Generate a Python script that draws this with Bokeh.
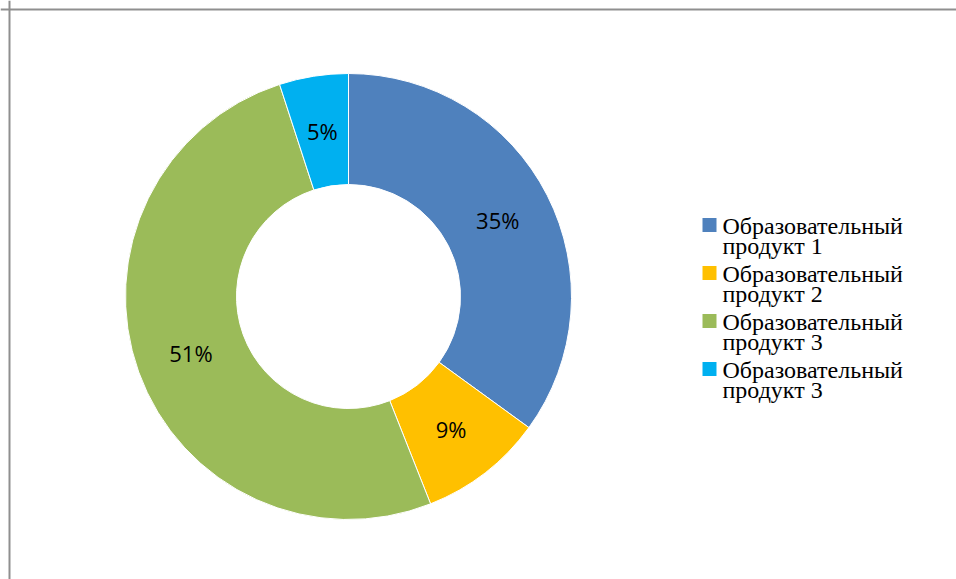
import numpy as np
from bokeh.plotting import figure
from bokeh.models import Range1d, Span, ColumnDataSource
from bokeh.core.properties import value
from bokeh.embed import file_html
from bokeh.resources import INLINE

# ---- data ----
categories = ["Образовательный продукт 1", "Образовательный продукт 2",
              "Образовательный продукт 3", "Образовательный продукт 3"]
shares = [35, 9, 51, 5]
colors = ["#4F81BD", "#FFC000", "#9BBB59", "#00B0F0"]

# ---- layout ----
W, H = 956, 579
OFF = 8
CX, CY = 348, H - 296
R_OUT, R_IN = 223, 112

p = figure(width=W, height=H, x_range=Range1d(0, W), y_range=Range1d(0, H),
           output_backend="svg", toolbar_location=None, min_border=0,
           x_axis_location=None, y_axis_location=None)
p.grid.visible = False
p.outline_line_color = None
p.background_fill_color = "white"
p.border_fill_color = "white"

sh = np.array(shares, dtype=float)
frac = sh / sh.sum()
cum = np.cumsum(frac)
starts = np.pi / 2 - 2 * np.pi * (cum - frac)
ends = np.pi / 2 - 2 * np.pi * cum
mids = (starts + ends) / 2
r_mid = (R_OUT + R_IN) / 2

src = ColumnDataSource(dict(
    x=[CX] * len(shares), y=[CY] * len(shares),
    start=starts, end=ends, color=colors,
    lx=CX + r_mid * np.cos(mids), ly=CY + r_mid * np.sin(mids),
    pct=[f"{round(f * 100):d}%" for f in frac],
))

p.annular_wedge(x="x", y="y", inner_radius=R_IN, outer_radius=R_OUT,
                start_angle="start", end_angle="end", direction="clock",
                fill_color="color", line_color="white", line_width=1, source=src)

p.text(x="lx", y="ly", text="pct", source=src, text_align="center",
       text_baseline="middle", text_font=value("Open Sans"),
       text_font_size="22px", text_color="#000000")

# ---- legend (manual, two-line labels) ----
n = len(categories)
step = 48
sq_y = [H - (224.5 + i * step) for i in range(n)]
l1_y = [H - (225 + i * step) for i in range(n)]
l2_y = [H - (245 + i * step) for i in range(n)]
line1 = [c.split(" ", 1)[0] for c in categories]
line2 = [c.split(" ", 1)[1] for c in categories]
leg = ColumnDataSource(dict(sx=[709] * n, sy=sq_y, tx=[722] * n,
                            l1y=l1_y, l2y=l2_y, t1=line1, t2=line2, color=colors))
p.scatter(x="sx", y="sy", marker="square", size=14, fill_color="color",
          line_color=None, source=leg)
for ycol, tcol in (("l1y", "t1"), ("l2y", "t2")):
    p.text(x="tx", y=ycol, text=tcol, source=leg, text_align="left",
           text_baseline="alphabetic", text_font=value("Liberation Serif"),
           text_font_size="24px", text_color="#000000")

# ---- frame (top and left edges visible) ----
p.add_layout(Span(location=H - OFF - 1, dimension="width", line_color="#8f8f8f", line_width=2))
p.add_layout(Span(location=OFF + 1, dimension="height", line_color="#8f8f8f", line_width=2))

open("out.html", "w").write(file_html(p, INLINE))
